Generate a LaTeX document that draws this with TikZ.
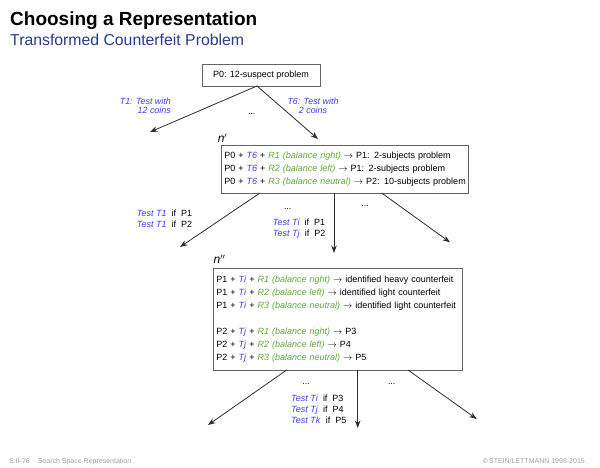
\documentclass[tikz,border=0pt]{standalone}
\usepackage{fontspec}
\setmainfont{Liberation Sans}
\usetikzlibrary{arrows.meta,calc}
\definecolor{tblue}{RGB}{60,60,245}
\definecolor{rgreen}{RGB}{95,170,55}
\definecolor{subblue}{RGB}{40,60,140}
\definecolor{boxgray}{RGB}{100,100,100}
\definecolor{arrgray}{RGB}{45,45,45}
\definecolor{footgray}{RGB}{160,160,160}
\newcommand{\myT}[1]{\textcolor{tblue}{\textit{#1}}}
\newcommand{\myR}[1]{\textcolor{rgreen}{\textit{#1}}}
\newcommand{\ar}{$\rightarrow$}
\begin{document}
\begin{tikzpicture}[x=1pt,y=-1pt,
  box/.style={draw=boxgray,line width=0.8pt,inner ysep=0pt,inner xsep=3pt,align=left,font=\fontsize{9}{13}\selectfont},
  conn/.style={draw=arrgray,line width=0.8pt,-{Stealth[length=7.5pt,width=5.5pt]}},
  lbl/.style={inner sep=0pt,font=\fontsize{8.9}{9.3}\selectfont\itshape,text=tblue},
  tst/.style={inner sep=0pt,align=left,anchor=west,font=\fontsize{9}{11}\selectfont},
  dots/.style={inner sep=0pt,anchor=base,font=\fontsize{8.8}{10}\selectfont},
  nlab/.style={inner sep=0pt,font=\fontsize{12}{12}\selectfont\itshape}]
\useasboundingbox (0,0) rectangle (600,467);
% title
\node[inner sep=0pt,anchor=base west,font=\fontsize{19}{19}\selectfont\bfseries] (title) at (10,25) {Choosing a Representation};
\node[inner sep=0pt,anchor=base west,font=\fontsize{15.8}{16}\selectfont,text=subblue] (sub) at (10,45) {Transformed Counterfeit Problem};
% P0
\node[box,minimum width=118pt,minimum height=22pt,align=center] (p0) at (261,75) {P0: 12-suspect problem};
\coordinate (p0s) at (257,86);
\coordinate (e1) at (150,132);
\coordinate (e2) at (318,139);
\draw[conn] (p0s) -- (e1);
\draw[conn] (p0s) -- (e2);
\node[dots] (d0) at (251.7,114.5) {...};
\node[lbl,align=right,anchor=east] (l1) at (171,106) {T1: Test with\\12 coins};
\node[lbl,align=center] (l2) at (313,106) {T6: Test with\\2 coins};
% n'
\node[nlab] (np) at (222.5,138) {n$'$};
\node[box,anchor=north west,text width=241pt,minimum height=48pt] (n1) at (221,145) {%
\mbox{P0 + \myT{T6} + \myR{R1 (balance right)} \ar{} P1: 2-subjects problem}\\
\mbox{P0 + \myT{T6} + \myR{R2 (balance left)} \ar{} P1: 2-subjects problem}\\
\mbox{P0 + \myT{T6} + \myR{R3 (balance neutral)} \ar{} P2: 10-subjects problem}};
\coordinate (s1) at (260,193);
\coordinate (s2) at (334,193);
\coordinate (s3) at (381.7,193);
\coordinate (f1) at (180,247);
\coordinate (f2) at (334,253);
\coordinate (f3) at (450,242.3);
\draw[conn] (s1) -- (f1);
\draw[conn] (s2) -- (f2);
\draw[conn] (s3) -- (f3);
\node[dots] (d1) at (287.7,209.5) {...};
\node[dots] (d2) at (365,206.5) {...};
\node[tst] (t1) at (136.7,219.2) {\myT{Test T1}~~if~~P1\\\myT{Test T1}~~if~~P2};
\node[tst] (t2) at (272.7,228.5) {\myT{Test Ti}~~if~~P1\\\myT{Test Tj}~~if~~P2};
% n''
\node[nlab] (npp) at (219.5,259) {n$''$};
\node[box,anchor=north west,text width=243pt,minimum height=102pt] (n2) at (213,268) {%
\mbox{P1 + \myT{Ti} + \myR{R1 (balance right)} \ar{} identified heavy counterfeit}\\
\mbox{P1 + \myT{Ti} + \myR{R2 (balance left)} \ar{} identified light counterfeit}\\
\mbox{P1 + \myT{Ti} + \myR{R3 (balance neutral)} \ar{} identified light counterfeit}\\[13pt]
\mbox{P2 + \myT{Tj} + \myR{R1 (balance right)} \ar{} P3}\\
\mbox{P2 + \myT{Tj} + \myR{R2 (balance left)} \ar{} P4}\\
\mbox{P2 + \myT{Tj} + \myR{R3 (balance neutral)} \ar{} P5}};
\coordinate (u1) at (286.7,370);
\coordinate (u2) at (357.7,370);
\coordinate (u3) at (408,370);
\coordinate (g1) at (208,425);
\coordinate (g2) at (357.7,428);
\coordinate (g3) at (476.7,419);
\draw[conn] (u1) -- (g1);
\draw[conn] (u2) -- (g2);
\draw[conn] (u3) -- (g3);
\node[dots] (d3) at (306,384.5) {...};
\node[dots] (d4) at (391.7,384.5) {...};
\node[tst] (t3) at (291,409.7) {\myT{Test Ti}~~if~~P3\\\myT{Test Tj}~~if~~P4\\\myT{Test Tk}~~if~~P5};
% footer
\node[inner sep=0pt,anchor=base west,font=\fontsize{7}{7}\selectfont,text=footgray] (fl) at (9,463.5) {S:II-76\hspace{8pt}Search Space Representation};
\node[inner sep=0pt,anchor=base east,font=\fontsize{7}{7}\selectfont,text=footgray] (fr) at (585,463.5) {\textcopyright\,STEIN/LETTMANN 1998-2015};
\end{tikzpicture}
\end{document}
